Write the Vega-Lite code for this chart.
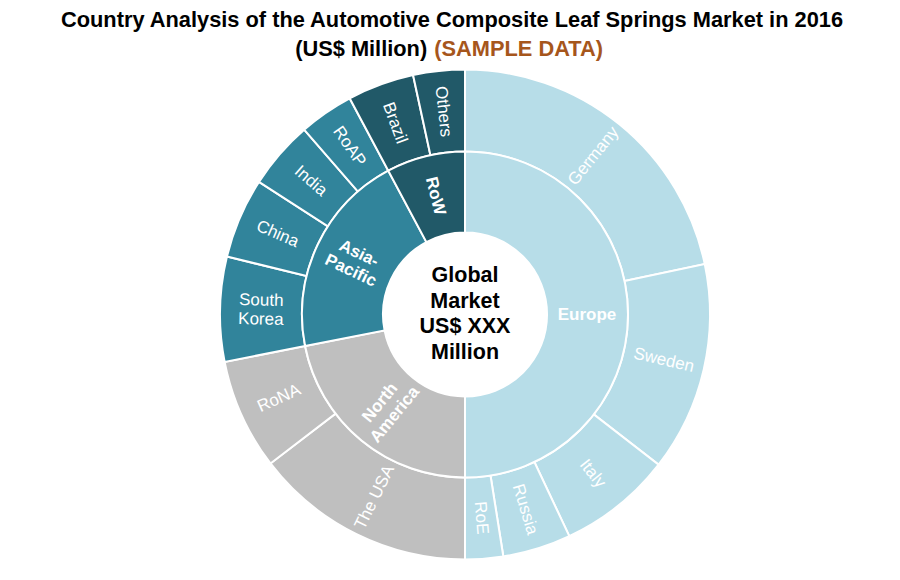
{
  "$schema": "https://vega.github.io/schema/vega-lite/v6.json",
  "width": 900,
  "height": 580,
  "autosize": {"type": "fit", "contains": "padding"},
  "padding": {"left": 30, "right": 0, "top": 10, "bottom": 16},
  "background": "white",
  "config": {"view": {"stroke": null}},
  "title": {
    "text": ["Country Analysis of the Automotive Composite Leaf Springs Market in 2016", "(US$ Million)\u00a0\u00a0\u00a0\u00a0\u00a0\u00a0\u00a0\u00a0\u00a0\u00a0\u00a0\u00a0\u00a0\u00a0\u00a0\u00a0\u00a0\u00a0\u00a0\u00a0\u00a0\u00a0\u00a0\u00a0\u00a0\u00a0\u00a0\u00a0\u00a0\u00a0\u200b"],
    "subtitle": "\u200b\u00a0\u00a0\u00a0\u00a0\u00a0\u00a0\u00a0\u00a0\u00a0\u00a0\u00a0\u00a0\u00a0\u00a0\u00a0\u00a0\u00a0\u00a0\u00a0\u00a0\u00a0\u00a0(SAMPLE DATA)",
    "anchor": "middle",
    "dx": -13,
    "font": "Liberation Sans",
    "fontSize": 21.8,
    "fontWeight": "bold",
    "color": "#000000",
    "lineHeight": 29,
    "subtitleFont": "Liberation Sans",
    "subtitleFontSize": 21.8,
    "subtitleFontWeight": "bold",
    "subtitleColor": "#a6561c",
    "subtitleLineHeight": 29,
    "subtitlePadding": -22,
    "offset": 4
  },
  "datasets": {
    "countries": [
      {"idx": 1, "region": "Europe", "name": "Germany", "value": 21.7},
      {"idx": 2, "region": "Europe", "name": "Sweden", "value": 13.8},
      {"idx": 3, "region": "Europe", "name": "Italy", "value": 7.5},
      {"idx": 4, "region": "Europe", "name": "Russia", "value": 4.5},
      {"idx": 5, "region": "Europe", "name": "RoE", "value": 2.5},
      {"idx": 6, "region": "North America", "name": "The USA", "value": 14.6},
      {"idx": 7, "region": "North America", "name": "RoNA", "value": 7.3},
      {"idx": 8, "region": "Asia-Pacific", "name": "South\nKorea", "value": 6.9},
      {"idx": 9, "region": "Asia-Pacific", "name": "China", "value": 5.3},
      {"idx": 10, "region": "Asia-Pacific", "name": "India", "value": 4.5},
      {"idx": 11, "region": "Asia-Pacific", "name": "RoAP", "value": 3.6},
      {"idx": 12, "region": "RoW", "name": "Brazil", "value": 4.4},
      {"idx": 13, "region": "RoW", "name": "Others", "value": 3.4}
    ],
    "regions": [
      {"region": "Europe", "label": "Europe"},
      {"region": "North America", "label": "North\nAmerica"},
      {"region": "Asia-Pacific", "label": "Asia-\nPacific"},
      {"region": "RoW", "label": "RoW"}
    ],
    "center": [
      {"label": "Global\nMarket\nUS$ XXX\nMillion"}
    ]
  },
  "layer": [
    {
      "data": {"name": "countries"},
      "transform": [
        {"window": [{"op": "sum", "field": "value", "as": "cum"}], "sort": [{"field": "idx"}], "frame": [null, 0]},
        {"joinaggregate": [{"op": "sum", "field": "value", "as": "total"}]},
        {"calculate": "(datum.cum - datum.value) / datum.total * 100", "as": "start"},
        {"calculate": "datum.cum / datum.total * 100", "as": "end"},
        {"calculate": "(datum.cum - datum.value / 2) / datum.total * 360", "as": "middeg"},
        {"calculate": "(datum.cum - datum.value / 2) / datum.total * 100", "as": "mid"},
        {"calculate": "datum.middeg < 180 ? datum.middeg - 90 : datum.middeg - 270", "as": "ang"}
      ],
      "layer": [
        {
          "mark": {"type": "arc", "outerRadius": 245, "innerRadius": 163, "stroke": "white", "strokeWidth": 2},
          "encoding": {
            "theta": {"field": "start", "type": "quantitative", "stack": null, "scale": {"domain": [0, 100]}},
            "theta2": {"field": "end"},
            "color": {"field": "region", "type": "nominal", "legend": null,
              "scale": {"domain": ["Europe", "North America", "Asia-Pacific", "RoW"], "range": ["#b7dde8", "#bfbfbf", "#31849b", "#215968"]}}
          }
        },
        {
          "transform": [{"filter": "indexof(datum.name, '\\n') < 0"}],
          "mark": {"type": "text", "radius": 204, "font": "Liberation Sans", "fontSize": 17, "color": "white", "align": "center", "baseline": "middle"},
          "encoding": {
            "theta": {"field": "mid", "type": "quantitative", "stack": null, "scale": {"domain": [0, 100]}},
            "text": {"field": "name"},
            "angle": {"field": "ang", "type": "quantitative", "scale": null}
          }
        },
        {
          "transform": [{"filter": "indexof(datum.name, '\\n') >= 0"}],
          "mark": {"type": "text", "radius": 204, "font": "Liberation Sans", "fontSize": 17, "color": "white", "lineBreak": "\n", "lineHeight": 19, "dy": -9.5, "align": "center", "baseline": "middle"},
          "encoding": {
            "theta": {"field": "mid", "type": "quantitative", "stack": null, "scale": {"domain": [0, 100]}},
            "text": {"field": "name"},
            "angle": {"field": "ang", "type": "quantitative", "scale": null}
          }
        }
      ]
    },
    {
      "data": {"name": "countries"},
      "transform": [
        {"aggregate": [{"op": "sum", "field": "value", "as": "value"}, {"op": "min", "field": "idx", "as": "idx"}], "groupby": ["region"]},
        {"window": [{"op": "sum", "field": "value", "as": "cum"}], "sort": [{"field": "idx"}], "frame": [null, 0]},
        {"joinaggregate": [{"op": "sum", "field": "value", "as": "total"}]},
        {"lookup": "region", "from": {"data": {"name": "regions"}, "key": "region", "fields": ["label"]}},
        {"calculate": "(datum.cum - datum.value) / datum.total * 100", "as": "start"},
        {"calculate": "datum.cum / datum.total * 100", "as": "end"},
        {"calculate": "(datum.cum - datum.value / 2) / datum.total * 360", "as": "middeg"},
        {"calculate": "(datum.cum - datum.value / 2) / datum.total * 100", "as": "mid"},
        {"calculate": "datum.middeg < 180 ? datum.middeg - 90 : datum.middeg - 270", "as": "ang"}
      ],
      "layer": [
        {
          "mark": {"type": "arc", "outerRadius": 163, "innerRadius": 82, "stroke": "white", "strokeWidth": 2},
          "encoding": {
            "theta": {"field": "start", "type": "quantitative", "stack": null, "scale": {"domain": [0, 100]}},
            "theta2": {"field": "end"},
            "color": {"field": "region", "type": "nominal", "legend": null}
          }
        },
        {
          "transform": [{"filter": "indexof(datum.label, '\\n') < 0"}],
          "mark": {"type": "text", "radius": 122, "font": "Liberation Sans", "fontSize": 17, "fontWeight": "bold", "color": "white", "align": "center", "baseline": "middle"},
          "encoding": {
            "theta": {"field": "mid", "type": "quantitative", "stack": null, "scale": {"domain": [0, 100]}},
            "text": {"field": "label"},
            "angle": {"field": "ang", "type": "quantitative", "scale": null}
          }
        },
        {
          "transform": [{"filter": "indexof(datum.label, '\\n') >= 0"}],
          "mark": {"type": "text", "radius": 122, "font": "Liberation Sans", "fontSize": 17, "fontWeight": "bold", "color": "white", "lineBreak": "\n", "lineHeight": 19, "dy": -9.5, "align": "center", "baseline": "middle"},
          "encoding": {
            "theta": {"field": "mid", "type": "quantitative", "stack": null, "scale": {"domain": [0, 100]}},
            "text": {"field": "label"},
            "angle": {"field": "ang", "type": "quantitative", "scale": null}
          }
        }
      ]
    },
    {
      "data": {"name": "center"},
      "mark": {"type": "text", "font": "Liberation Sans", "fontSize": 21.5, "fontWeight": "bold", "color": "black", "lineBreak": "\n", "lineHeight": 25.5, "dy": -38.25, "align": "center", "baseline": "middle"},
      "encoding": {
        "text": {"field": "label"}
      }
    }
  ]
}
